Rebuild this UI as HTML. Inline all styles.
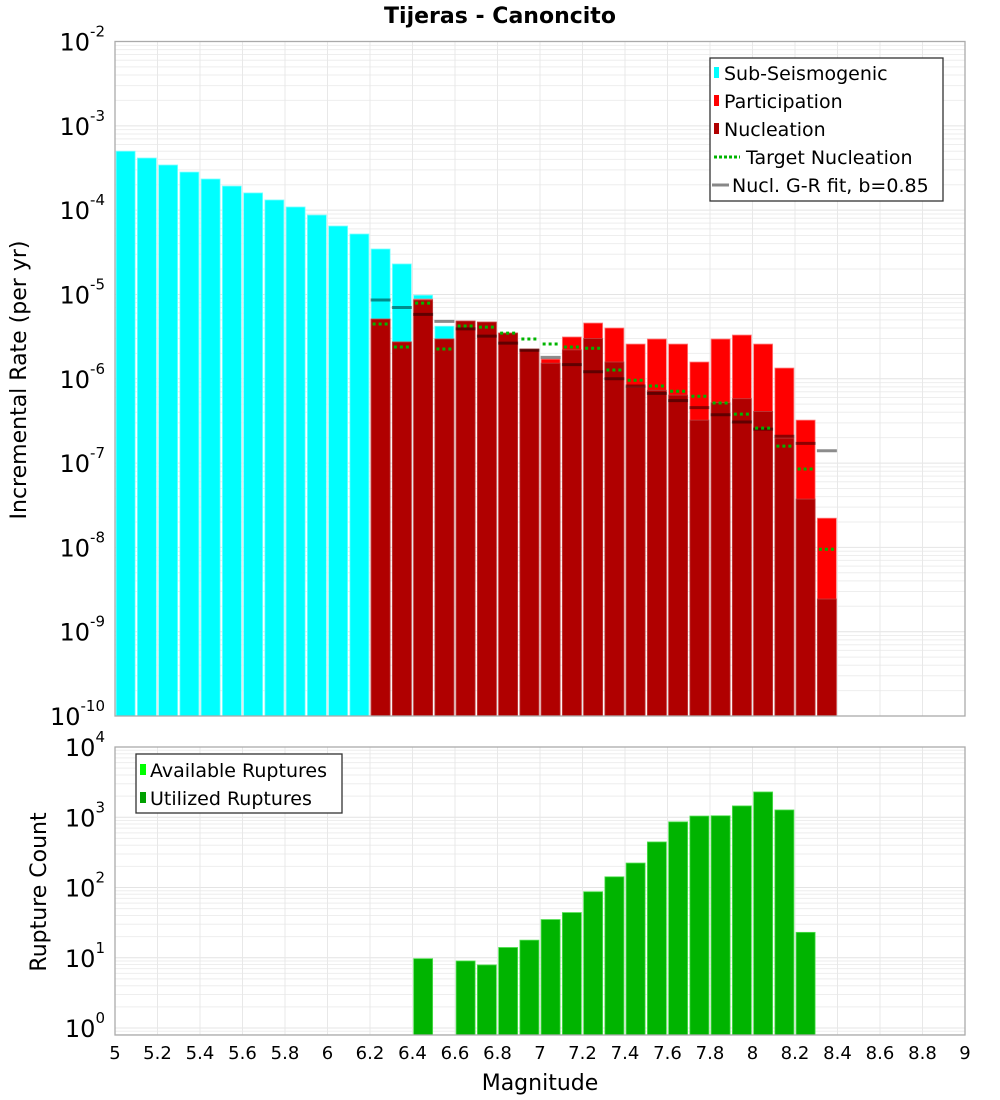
<!DOCTYPE html>
<html><head><meta charset="utf-8"><style>
body{margin:0;background:#fff;}
svg{display:block;font-family:"DejaVu Sans","Liberation Sans",sans-serif;}
</style></head><body>
<svg id="chart" width="1000" height="1100" viewBox="0 0 1000 1100" xmlns="http://www.w3.org/2000/svg">
<text x="500" y="23" text-anchor="middle" font-size="22" font-weight="bold">Tijeras - Canoncito</text>
<g id="gtop"></g><g id="gbot"></g>
<text transform="translate(26,380) rotate(-90)" text-anchor="middle" font-size="22">Incremental Rate (per yr)</text>
<text transform="translate(46,892) rotate(-90)" text-anchor="middle" font-size="22">Rupture Count</text>
<text x="540" y="1090" text-anchor="middle" font-size="22">Magnitude</text>
<g>
<rect x="710" y="58" width="233" height="143" fill="#fff" stroke="#333" stroke-width="1.3"/>
<rect x="714" y="67" width="5" height="11" fill="#00ffff"/><text x="724" y="80" font-size="19">Sub-Seismogenic</text>
<rect x="714" y="95" width="5" height="11" fill="#ff0000"/><text x="724" y="108" font-size="19">Participation</text>
<rect x="714" y="123" width="5" height="11" fill="#b00000"/><text x="724" y="136" font-size="19">Nucleation</text>
<line x1="714" y1="157" x2="740" y2="157" stroke="#00b400" stroke-width="3" stroke-dasharray="3,2"/><text x="746" y="164" font-size="19">Target Nucleation</text>
<line x1="712" y1="185" x2="729" y2="185" stroke="#888" stroke-width="3"/><text x="732" y="192" font-size="19">Nucl. G-R fit, b=0.85</text>
</g>
<g>
<rect x="136" y="754" width="206" height="59" fill="#fff" stroke="#333" stroke-width="1.3"/>
<rect x="140" y="764" width="6" height="11" fill="#00ff00"/><text x="150" y="777" font-size="19">Available Ruptures</text>
<rect x="140" y="792" width="6" height="11" fill="#00a000"/><text x="150" y="805" font-size="19">Utilized Ruptures</text>
</g>
</svg>
<script>
const mags=[5.05,5.15,5.25,5.35,5.45,5.55,5.65,5.75,5.85,5.95,6.05,6.15,6.25,6.35,6.45,6.55,6.65,6.75,6.85,6.95,7.05,7.15,7.25,7.35,7.45,7.55,7.65,7.75,7.85,7.95,8.05,8.15,8.25,8.35];
const subSeis=[5.0e-4,4.15e-4,3.43e-4,2.83e-4,2.34e-4,1.93e-4,1.60e-4,1.32e-4,1.09e-4,8.75e-5,6.48e-5,5.21e-5,3.46e-5,2.30e-5,9.8e-6,4.2e-6];
const partic=[0,0,0,0,0,0,0,0,0,0,0,0,5.1e-6,2.73e-6,8.8e-6,2.96e-6,4.83e-6,4.7e-6,3.48e-6,2.25e-6,1.71e-6,3.13e-6,4.58e-6,4.0e-6,2.58e-6,2.96e-6,2.58e-6,1.58e-6,2.96e-6,3.3e-6,2.58e-6,1.34e-6,3.23e-7,2.22e-8];
const nucl=[0,0,0,0,0,0,0,0,0,0,0,0,5.1e-6,2.73e-6,8.6e-6,2.96e-6,4.83e-6,4.7e-6,3.48e-6,2.25e-6,1.53e-6,2.2e-6,3.0e-6,1.58e-6,7.98e-7,7.3e-7,6.4e-7,3.23e-7,5.2e-7,5.8e-7,4.1e-7,1.98e-7,3.74e-8,2.44e-9];
const grFit=[null,null,null,null,null,null,null,null,null,null,null,null,8.6e-6,7.0e-6,5.8e-6,4.8e-6,3.9e-6,3.2e-6,2.65e-6,2.18e-6,1.79e-6,1.47e-6,1.21e-6,1.0e-6,8.2e-7,6.7e-7,5.5e-7,4.55e-7,3.74e-7,3.07e-7,2.53e-7,2.08e-7,1.71e-7,1.40e-7];
const target=[null,null,null,null,null,null,null,null,null,null,null,null,4.46e-6,2.38e-6,7.9e-6,2.25e-6,4.22e-6,4.1e-6,3.48e-6,2.96e-6,2.58e-6,2.38e-6,2.3e-6,1.27e-6,9.6e-7,8.2e-7,7.1e-7,6.2e-7,5.15e-7,3.8e-7,2.6e-7,1.59e-7,8.5e-8,9.5e-9];
const counts=[0,0,0,0,0,0,0,0,0,0,0,0,0,0,9.7,0,9,7.9,14,17.8,35,44,87,142,223,445,860,1040,1050,1450,2290,1270,23,0];
const xTicks=["5","5.2","5.4","5.6","5.8","6","6.2","6.4","6.6","6.8","7","7.2","7.4","7.6","7.8","8","8.2","8.4","8.6","8.8","9"];
const topExp=[-2,-3,-4,-5,-6,-7,-8,-9,-10];
const botExp=[4,3,2,1,0];

const NS="http://www.w3.org/2000/svg";
const L=115,R=965;
const T1=41.5,B1=716,T2=747,B2=1035;
function x(m){return L+(m-5)/4*(R-L);}
function y1(v){return T1+(-2-Math.log10(v))*(B1-T1)/8;}
function y2(v){return T2+(4-Math.log10(v))*70.25;}
function mk(p,tag,at){const e=document.createElementNS(NS,tag);for(const k in at)e.setAttribute(k,at[k]);p.appendChild(e);return e;}
const gTop=document.getElementById('gtop'),gBot=document.getElementById('gbot');

function grid(g,T,B,yf,lo,hi){
  for(let d=lo;d<hi;d++)for(let k=1;k<10;k++){const yy=yf(k*Math.pow(10,d));if(yy<T||yy>B)continue;
    const l=mk(g,'line',{x1:L,x2:R,y1:yy,y2:yy,stroke:k==1?'#e4e4e4':'#eeeeee','stroke-width':1});
    
    }
  xTicks.forEach(t=>{const xx=x(+t);const l=mk(g,'line',{x1:xx,x2:xx,y1:T,y2:B,stroke:'#e8e8e8','stroke-width':1});
    
    });
}
grid(gTop,T1,B1,y1,-10,-2);
grid(gBot,T2,B2,y2,-1,4);
const bw=19;
function bar(g,m,v,yf,B,fill,stroke,name){const yy=yf(v);const r=mk(g,'rect',{x:x(m)-bw/2,y:yy,width:bw,height:B-yy,fill:fill,stroke:stroke,'stroke-width':0.8});
  
  }
subSeis.forEach((v,i)=>{if(v>0)bar(gTop,mags[i],v,y1,B1,'#00ffff','#7fffff','bar-sub-seismogenic');});
partic.forEach((v,i)=>{if(v>0)bar(gTop,mags[i],v,y1,B1,'#ff0000','#ff7f7f','bar-participation');});
nucl.forEach((v,i)=>{if(v>0)bar(gTop,mags[i],v,y1,B1,'#b00000','#c04040','bar-nucleation');});
grFit.forEach((v,i)=>{if(v==null)return;const yy=y1(v);const l=mk(gTop,'line',{x1:x(mags[i])-10,x2:x(mags[i])+10,y1:yy,y2:yy,stroke:'rgba(0,0,0,0.45)','stroke-width':3});
  
  });
target.forEach((v,i)=>{if(v==null)return;const yy=y1(v);const l=mk(gTop,'line',{x1:x(mags[i])-8,x2:x(mags[i])+9,y1:yy,y2:yy,stroke:'#00b400','stroke-width':3,'stroke-dasharray':'3,3'});
  
  });
counts.forEach((v,i)=>{if(v>0)bar(gBot,mags[i],v,y2,B2,'#00b400','#50e050','bar-rupture-count');});
[[T1,B1,gTop],[T2,B2,gBot]].forEach(([T,B,g])=>{const r=mk(g,'rect',{x:L,y:T,width:R-L,height:B-T,fill:'none',stroke:'#aaa','stroke-width':1.3});
  
  });
function ylab(g,yy,e){const t=mk(g,'text',{x:105,y:yy+9,'text-anchor':'end','font-size':24});
  
  
  t.textContent='10';const s=mk(t,'tspan',{dy:-14,'font-size':15});s.textContent=String(e);}
topExp.forEach(e=>ylab(gTop,y1(Math.pow(10,e)),e));
botExp.forEach(e=>ylab(gBot,y2(Math.pow(10,e)),e));
xTicks.forEach(t=>{const tx=mk(gBot,'text',{x:x(+t),y:1059,'text-anchor':'middle','font-size':18});
  
  
  tx.textContent=t;});
</script>
</body></html>
